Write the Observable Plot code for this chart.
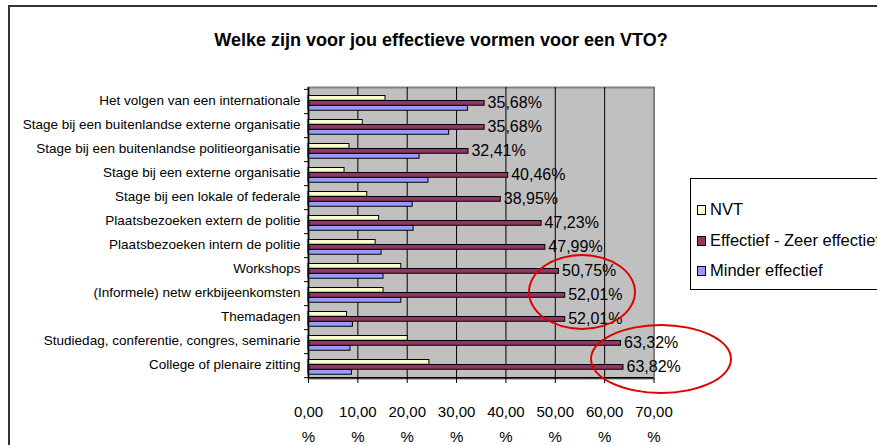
<!DOCTYPE html>
<html>
<head>
<meta charset="utf-8">
<script src="https://cdn.jsdelivr.net/npm/d3@7"></script>
<script src="https://cdn.jsdelivr.net/npm/@observablehq/plot@0.6"></script>
<style>
  body { margin: 0; background: #fff; }
  #wrap { position: relative; width: 877px; height: 445px; overflow: hidden; font-family: "Liberation Sans", Arial, sans-serif; }
  #frame { position: absolute; left: 8px; top: 5px; width: 1000px; height: 600px; border-left: 2px solid #333; border-top: 2px solid #333; }
  #title { position: absolute; left: 0; width: 882px; top: 30px; text-align: center; font-weight: bold; font-size: 18px; color: #000; }
  #legend { position: absolute; left: 690px; top: 178px; width: 220px; height: 110px; border: 1px solid #000; background: #fff; font-size: 16.5px; }
  .item { position: absolute; left: 6px; display: flex; align-items: center; white-space: nowrap; }
  .sw { width: 7px; height: 8px; border: 1px solid #000; margin-right: 4px; }
  .ell { position: absolute; border: 2px solid #e00000; border-radius: 50%; }
  #chart { position: absolute; left: 0; top: 0; }
</style>
</head>
<body>
<div id="wrap">
  <div id="frame"></div>
  <div id="chart"></div>
  <div id="title">Welke zijn voor jou effectieve vormen voor een VTO?</div>
  <div id="legend"></div>
  <div class="ell" style="left:528px; top:254px; width:104px; height:72px;"></div>
  <div class="ell" style="left:590px; top:324px; width:138px; height:66px;"></div>
</div>
<script>
const categories = [
  "Het volgen van een internationale",
  "Stage bij een buitenlandse externe organisatie",
  "Stage bij een buitenlandse politieorganisatie",
  "Stage bij een externe organisatie",
  "Stage bij een lokale of federale",
  "Plaatsbezoeken extern de politie",
  "Plaatsbezoeken intern de politie",
  "Workshops",
  "(Informele) netw erkbijeenkomsten",
  "Themadagen",
  "Studiedag, conferentie, congres, seminarie",
  "College of plenaire zitting"
];
const nvt =       [15.6, 11.0, 8.3, 7.3, 11.9, 14.3, 13.6, 18.8, 15.2, 7.8, 20.1, 24.5];
const effectief = [35.68, 35.68, 32.41, 40.46, 38.95, 47.23, 47.99, 50.75, 52.01, 52.01, 63.32, 63.82];
const minder =    [32.3, 28.5, 22.5, 24.3, 21.1, 21.3, 14.8, 15.2, 18.8, 9.0, 8.5, 8.8];
const xTicks = [0, 10, 20, 30, 40, 50, 60, 70];
const gridTicks = [10, 20, 30, 40, 50, 60];
const seriesNames = ["NVT", "Effectief - Zeer effectief", "Minder effectief"];
const seriesColors = ["#FFFFCC", "#993366", "#9999FF"];

const rows = categories.map((c, i) => ({cat: c, nvt: nvt[i], eff: effectief[i], min: minder[i]}));

const W = 877, H = 445;
const mt = 87, mb = 67, ml = 308, mr = 223.5;
const bw = (H - mt - mb) / categories.length;
const fmt = v => v.toFixed(2).replace(".", ",");

const chart = Plot.plot({
  width: W, height: H,
  marginTop: mt, marginBottom: mb, marginLeft: ml, marginRight: mr,
  style: {fontFamily: "'Liberation Sans', Arial, sans-serif", background: "transparent", overflow: "visible"},
  x: {domain: [0, 70], axis: null},
  y: {domain: categories, padding: 0, axis: null},
  marks: [
    Plot.frame({fill: "#C0C0C0", stroke: "#808080", strokeWidth: 2}),
    Plot.ruleX(gridTicks, {stroke: "#000", strokeWidth: 1}),
    Plot.barX(rows, {x: "nvt", y: "cat", fill: seriesColors[0], stroke: "#000", strokeWidth: 1, insetTop: 6.5, insetBottom: bw - 11.5}),
    Plot.barX(rows, {x: "eff", y: "cat", fill: seriesColors[1], stroke: "#000", strokeWidth: 1, insetTop: 11.5, insetBottom: bw - 16.5}),
    Plot.barX(rows, {x: "min", y: "cat", fill: seriesColors[2], stroke: "#000", strokeWidth: 1, insetTop: 16.5, insetBottom: bw - 21.5}),
    Plot.text(rows, {x: "eff", y: "cat", text: d => fmt(d.eff) + "%", textAnchor: "start", dx: 3, dy: 1, fontSize: 16, fill: "#000"}),
    Plot.ruleX([0], {stroke: "#000", strokeWidth: 1.5}),
    Plot.ruleY([categories[categories.length - 1]], {y: d => d, x1: 0, x2: 70, dy: bw / 2, stroke: "#000", strokeWidth: 1.5}),
    Plot.ruleY(categories, {y: d => d, x1: -0.8, x2: 0, dy: bw / 2, stroke: "#000", clip: false}),
    Plot.ruleY([categories[0]], {y: d => d, x1: -0.8, x2: 0, dy: -bw / 2, stroke: "#000", clip: false}),
    Plot.axisY({tickSize: 0, tickPadding: 8, fontSize: 13.5, fill: "#000", label: null, dy: -1}),
    Plot.axisX(xTicks, {tickSize: 5, tickPadding: 23, fontSize: 15, tickFormat: fmt, stroke: "#000", fill: "#000", label: null}),
    Plot.axisX(xTicks, {tickSize: 0, tickPadding: 53, fontSize: 15, tickFormat: () => "%", fill: "#000", label: null})
  ]
});
document.getElementById("chart").appendChild(chart);

const lg = document.getElementById("legend");
const tops = [31, 62, 92];
seriesNames.forEach((n, i) => {
  const it = document.createElement("div");
  it.className = "item";
  it.style.top = (tops[i] - 10) + "px";
  it.innerHTML = `<div class="sw" style="background:${seriesColors[i]}"></div><span>${n}</span>`;
  lg.appendChild(it);
});
</script>
</body>
</html>
